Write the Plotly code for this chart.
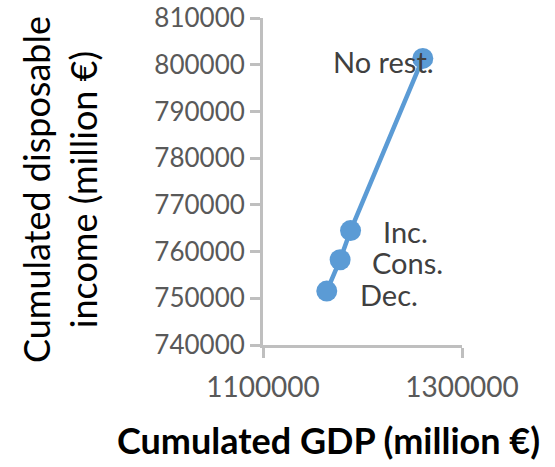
import plotly.graph_objects as go

labels = ["No rest.", "Inc.", "Cons.", "Dec."]
gdp = [1260600, 1188000, 1177500, 1164100]
income = [801350, 764500, 758250, 751550]

x_ticks = [1100000, 1300000]
y_ticks = [740000, 750000, 760000, 770000, 780000, 790000, 800000, 810000]

# label placement (styling only)
label_anchor = ["center", "left", "left", "left"]
label_xshift = [-39, 31, 31, 32]
label_yshift = [-3, -1, -3, -3]

FONT = "Lato, 'Open Sans', sans-serif"
blue = "#5B9BD5"
axis_col = "#BFBFBF"

fig = go.Figure()
fig.add_trace(go.Scatter(
    x=gdp, y=income, mode="lines+markers",
    line=dict(color=blue, width=4.5),
    marker=dict(color=blue, size=21),
    cliponaxis=False,
    showlegend=False,
))

annotations = []
for lab, gx, iy, anc, xs, ys in zip(labels, gdp, income, label_anchor, label_xshift, label_yshift):
    annotations.append(dict(
        text=lab, x=gx, y=iy, xref="x", yref="y", showarrow=False,
        xanchor=anc, yanchor="middle", xshift=xs, yshift=ys,
        borderpad=0,
        font=dict(family=FONT, size=29, color="#404040"),
    ))

annotations += [
    dict(text="Cumulated disposable<br>income (million €)",
         xref="paper", yref="paper", x=-1.025, y=0.474,
         xanchor="center", yanchor="middle", textangle=-90,
         showarrow=False,
         font=dict(family=FONT, size=36, color="black")),
    dict(text="<b>Cumulated GDP (million €)</b>",
         xref="paper", yref="paper", x=0.328, y=-0.29,
         xanchor="center", yanchor="middle",
         showarrow=False,
         font=dict(family=FONT, size=36, color="black")),
]

fig.update_layout(
    width=555, height=467,
    margin=dict(l=263, r=93, t=18, b=122),
    paper_bgcolor="white", plot_bgcolor="white",
    font=dict(family=FONT, color="#595959", size=26),
    xaxis=dict(range=[1100000, 1300000], tickvals=x_ticks,
               ticktext=[str(v) for v in x_ticks],
               showgrid=False, zeroline=False, showline=True,
               linecolor=axis_col, linewidth=3, automargin=False,
               ticks="outside", ticklen=10, tickwidth=3, tickcolor=axis_col,
               ticklabelstandoff=5, ticklabeloverflow="allow",
               tickfont=dict(family=FONT, size=28, color="#595959")),
    yaxis=dict(range=[740000, 810000], tickvals=y_ticks,
               ticktext=[str(v) for v in y_ticks],
               showgrid=False, zeroline=False, showline=True,
               linecolor=axis_col, linewidth=3, automargin=False,
               ticks="outside", ticklen=10, tickwidth=3, tickcolor=axis_col,
               ticklabeloverflow="allow",
               tickfont=dict(family=FONT, size=26, color="#595959")),
    annotations=annotations,
)

# remove the page's default 8px body margin so the figure fills the window exactly
fig.write_html("out.html", config={"displayModeBar": False},
               post_script="document.body.style.margin='0';document.body.style.overflow='hidden';")
